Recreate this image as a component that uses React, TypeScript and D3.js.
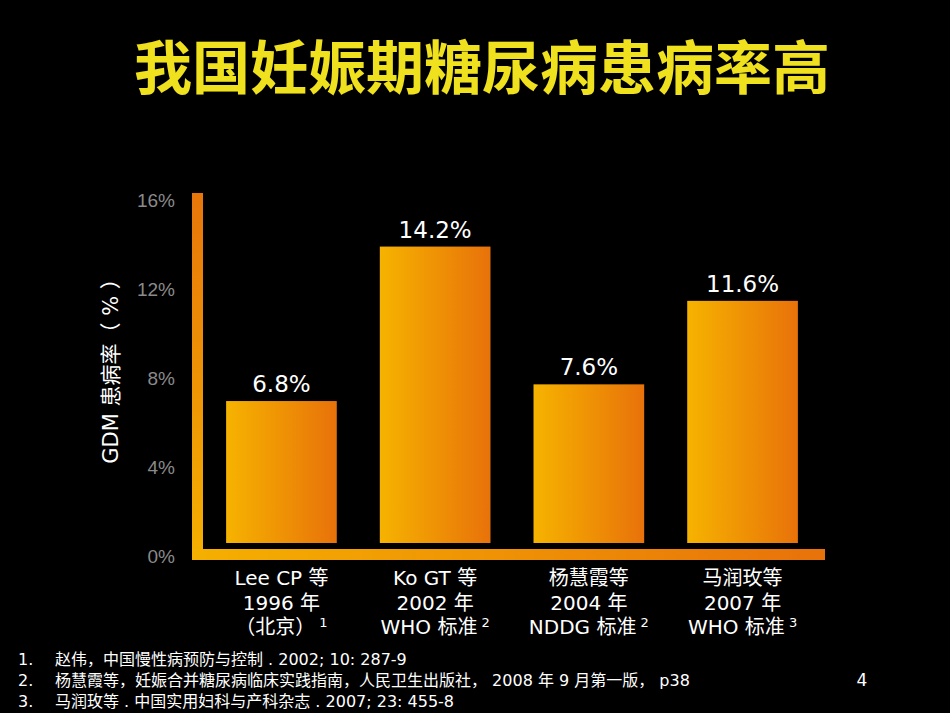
import { useEffect, useRef } from 'react'
import * as d3 from 'd3'

const categories = ['Lee CP 等', 'Ko GT 等', '杨慧霞等', '马润玫等']
const years = ['1996 年', '2002 年', '2004 年', '2007 年']
const notes = ['（北京）', 'WHO 标准', 'NDDG 标准', 'WHO 标准']
const refMarks = ['1', '2', '2', '3']
const rates = [6.8, 14.2, 7.6, 11.6]
const tickValues = [0, 4, 8, 12, 16]

const footnotes = [
  '赵伟，中国慢性病预防与控制 . 2002; 10: 287-9',
  '杨慧霞等，妊娠合并糖尿病临床实践指南，人民卫生出版社， 2008 年 9 月第一版， p38',
  '马润玫等 . 中国实用妇科与产科杂志 . 2007; 23: 455-8',
]

const W = 950
const H = 713
const FONT = "'DejaVu Sans', 'Noto Sans CJK SC', sans-serif"

export default function App() {
  const svgRef = useRef<SVGSVGElement>(null)

  useEffect(() => {
    document.body.style.margin = '0'
    document.body.style.background = '#000'
    if (!svgRef.current) return
    const svg = d3.select(svgRef.current)
    svg.selectAll('*').remove()

    const defs = svg.append('defs')
    const grad = (id: string, x2: string, y2: string, from: string, to: string) => {
      const g = defs.append('linearGradient').attr('id', id)
        .attr('x1', '0').attr('y1', '0').attr('x2', x2).attr('y2', y2)
      g.append('stop').attr('offset', '0%').attr('stop-color', from)
      g.append('stop').attr('offset', '100%').attr('stop-color', to)
    }
    grad('barGrad', '1', '0', '#f6b300', '#e8720a')
    grad('vAxisGrad', '0', '1', '#e8760a', '#f5b000')
    grad('hAxisGrad', '1', '0', '#f5b000', '#e8720a')

    svg.append('rect').attr('width', W).attr('height', H).attr('fill', '#000')

    // title
    svg.append('text')
      .attr('x', 482).attr('y', 64)
      .attr('text-anchor', 'middle').attr('dominant-baseline', 'central')
      .attr('font-family', "'Noto Sans CJK SC', sans-serif")
      .attr('font-weight', 700).attr('font-size', 58)
      .attr('fill', '#f0e11e')
      .text('我国妊娠期糖尿病患病率高')

    const x = d3.scaleBand<string>()
      .domain(categories)
      .range([204.6, 819.4])
      .paddingInner(0.28)
      .paddingOuter(0.14)

    // tick labels sit on their own scale, bars on a slightly shorter one above the frame
    const yTick = d3.scaleLinear().domain([0, 16]).range([556, 200])
    const yBar = d3.scaleLinear().domain([0, 16]).range([543, 209])

    // L-shaped frame
    svg.append('rect').attr('x', 192).attr('y', 193).attr('width', 11).attr('height', 367)
      .attr('fill', 'url(#vAxisGrad)')
    svg.append('rect').attr('x', 192).attr('y', 549).attr('width', 633).attr('height', 11)
      .attr('fill', 'url(#hAxisGrad)')

    svg.append('g').selectAll('text').data(tickValues).join('text')
      .attr('x', 175).attr('y', d => yTick(d))
      .attr('text-anchor', 'end').attr('dominant-baseline', 'central')
      .attr('font-family', "'Liberation Sans', Arial, sans-serif")
      .attr('font-size', 19).attr('fill', '#8a8a8a')
      .text(d => `${d}%`)

    // y title: latin part condensed, CJK part at full size
    const yt = svg.append('text')
      .attr('transform', 'translate(111,366) rotate(-90)')
      .attr('text-anchor', 'middle').attr('dominant-baseline', 'central')
      .attr('font-family', FONT).attr('font-size', 21).attr('fill', '#fff')
    yt.append('tspan').text('GDM 患病率（ % ）')

    // bars
    svg.append('g').selectAll('rect').data(rates).join('rect')
      .attr('x', (_, i) => x(categories[i])!)
      .attr('y', d => yBar(d))
      .attr('width', x.bandwidth())
      .attr('height', d => yBar(0) - yBar(d))
      .attr('fill', 'url(#barGrad)')

    svg.append('g').selectAll('text').data(rates).join('text')
      .attr('x', (_, i) => x(categories[i])! + x.bandwidth() / 2)
      .attr('y', d => yBar(d) - 9)
      .attr('text-anchor', 'middle')
      .attr('font-family', FONT).attr('font-size', 23).attr('fill', '#fff')
      .text(d => `${d.toFixed(1)}%`)

    // category labels, three lines each
    const labels = svg.append('g').attr('font-family', FONT).attr('font-size', 20).attr('fill', '#fff')
      .attr('text-anchor', 'middle')
    categories.forEach((c, i) => {
      const cx = x(c)! + x.bandwidth() / 2
      labels.append('text').attr('x', cx).attr('y', 585).text(c)
      labels.append('text').attr('x', cx).attr('y', 610).text(years[i])
      const t = labels.append('text').attr('x', cx).attr('y', 634)
      t.append('tspan').text(notes[i])
      t.append('tspan').attr('dy', -7).attr('font-size', 13).text(' ' + refMarks[i])
    })

    // references
    const refs = svg.append('g').attr('font-family', FONT).attr('font-size', 16).attr('fill', '#fff')
    footnotes.forEach((f, i) => {
      const y = 665 + i * 21
      refs.append('text').attr('x', 18).attr('y', y).text(`${i + 1}.`)
      refs.append('text').attr('x', 55).attr('y', y).text(f)
    })

    svg.append('text')
      .attr('x', 862).attr('y', 686).attr('text-anchor', 'middle')
      .attr('font-family', FONT).attr('font-size', 17).attr('fill', '#fff')
      .text('4')
  }, [])

  return <svg ref={svgRef} width={W} height={H} style={{ display: 'block' }} />
}
